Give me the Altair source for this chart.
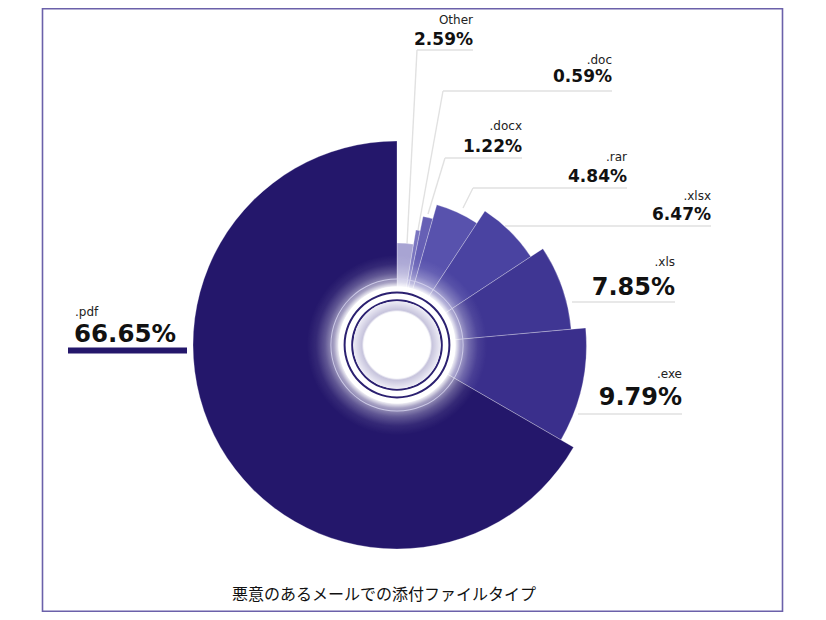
import math
import altair as alt
import pandas as pd

# ---------------- data ----------------
names = ["Other", ".doc", ".docx", ".rar", ".xlsx", ".xls", ".exe", ".pdf"]
shares = [2.59, 0.59, 1.22, 4.84, 6.47, 7.85, 9.79, 66.65]
ranks = [0, 1, 2, 3, 4, 5, 6, 7]          # radial step of each slice (smallest -> largest)
title_text = "悪意のあるメールでの添付ファイルタイプ"

# ---------------- style / layout ----------------
colors = ["#a8a4d3", "#7a75c0", "#6660b5", "#5852ad", "#4a43a1", "#3f3693", "#3a2f8c", "#24176b"]
M = 8  # page margin -> chart coordinates
CX, CY = 397 - M, 345 - M

# right-hand labels (page coords): right edge x, name y, value y, value font size
lab_x = [473, 612, 522, 627, 711, 675, 682]
name_y = [20, 60, 126, 157, 196, 262, 374]
val_y = [40, 77, 147, 177, 215, 288, 398]
val_fs = [17, 17, 17, 17, 17, 24, 24]

# leader / underline segments (page coords)
segs = [
    (417, 50, 473, 50), (417, 50, 407, 244),
    (443, 91, 612, 91), (443, 91, 418, 230),
    (445, 158, 522, 158), (445, 158, 428, 214),
    (473, 188, 627, 188), (473, 188, 463, 208),
    (505, 226, 711, 226),
    (572, 302, 675, 302),
    (578, 414, 682, 414),
]

FONT = "DejaVu Sans"

df = pd.DataFrame({"name": names, "share": shares, "rank": ranks, "idx": list(range(len(names)))})
one = pd.DataFrame({"k": [0]})

# ---------------- layers ----------------
frame = alt.Chart(one).mark_rect(fill="white", stroke="#6b61aa", strokeWidth=1.6).encode(
    x=alt.value(42.5 - M), x2=alt.value(782.5 - M), y=alt.value(0.8), y2=alt.value(603.2)
)

seg_df = pd.DataFrame(
    [{"x1": a - M, "y1": b - M, "x2": c - M, "y2": d - M} for a, b, c, d in segs]
)
leaders = alt.Chart(seg_df).mark_rule(color="#e1e1e1", strokeWidth=1.4).encode(
    x=alt.X("x1:Q", scale=None, axis=None),
    y=alt.Y("y1:Q", scale=None, axis=None),
    x2="x2:Q",
    y2="y2:Q",
)

slices = alt.Chart(df).transform_window(
    cum="sum(share)", sort=[alt.SortField("idx")], frame=[None, 0]
).transform_calculate(
    start="datum.cum - datum.share"
).mark_arc(stroke="white", strokeOpacity=0.35, strokeWidth=0.8).encode(
    theta=alt.Theta("start:Q", scale=alt.Scale(domain=[0, 100], range=[0, 2 * math.pi])),
    theta2="cum:Q",
    radius=alt.Radius("rank:Q", scale=alt.Scale(type="linear", domain=[0, 7], range=[102, 204])),
    radius2=alt.value(0),
    color=alt.Color("name:N", scale=alt.Scale(domain=names, range=colors), legend=None),
    order=alt.Order("idx:Q"),
    x=alt.value(CX),
    y=alt.value(CY),
)


def disc(outer, inner=0, **kw):
    return alt.Chart(one).mark_arc(
        outerRadius=outer, innerRadius=inner, theta=0, theta2=2 * math.pi, **kw
    ).encode(x=alt.value(CX), y=alt.value(CY))


glow = disc(
    90,
    fill={
        "gradient": "radial",
        "x1": 0.5, "y1": 0.5, "r1": 0,
        "x2": 0.5, "y2": 0.5, "r2": 0.5,
        "stops": [
            {"offset": 0, "color": "rgba(255,255,255,1)"},
            {"offset": 0.64, "color": "rgba(255,255,255,1)"},
            {"offset": 0.7, "color": "rgba(255,255,255,0.6)"},
            {"offset": 0.8, "color": "rgba(255,255,255,0.28)"},
            {"offset": 0.9, "color": "rgba(255,255,255,0.08)"},
            {"offset": 1, "color": "rgba(255,255,255,0)"},
        ],
    },
)
thin_ring = disc(66.6, 65.6, fill="#d6d3ee", opacity=0.85)
white_band = disc(58.5, 0, fill="white")
dark_ring1 = disc(53.4, 51.4, fill="#2b2070")
dark_ring2 = disc(45.8, 43.8, fill="#2b2070")
inner = disc(
    43.8,
    fill={
        "gradient": "radial",
        "x1": 0.5, "y1": 0.5, "r1": 0,
        "x2": 0.5, "y2": 0.5, "r2": 0.5,
        "stops": [
            {"offset": 0, "color": "#ffffff"},
            {"offset": 0.76, "color": "#ffffff"},
            {"offset": 0.8, "color": "#c6c3dc"},
            {"offset": 1, "color": "#eeedf6"},
        ],
    },
)

rlab = pd.DataFrame({
    "name": names[:7],
    "pct": [f"{v:.2f}%" for v in shares[:7]],
    "x": [v - M for v in lab_x],
    "ny": [v - M for v in name_y],
    "vy": [v - M for v in val_y],
    "fs": val_fs,
})
r_names = alt.Chart(rlab).mark_text(align="right", baseline="middle", font=FONT, fontSize=12, color="#222222").encode(
    x=alt.X("x:Q", scale=None, axis=None), y=alt.Y("ny:Q", scale=None, axis=None), text="name:N"
)
r_vals = alt.Chart(rlab).mark_text(align="right", baseline="middle", font=FONT, fontWeight="bold", color="#111111").encode(
    x=alt.X("x:Q", scale=None, axis=None), y=alt.Y("vy:Q", scale=None, axis=None), text="pct:N",
    size=alt.Size("fs:Q", scale=None, legend=None),
)

plab = pd.DataFrame({"name": [names[7]], "pct": [f"{shares[7]:.2f}%"]})
p_name = alt.Chart(plab).mark_text(align="left", baseline="middle", font=FONT, fontSize=12, color="#222222").encode(
    x=alt.value(75 - M), y=alt.value(312 - M), text="name:N"
)
p_val = alt.Chart(plab).mark_text(align="left", baseline="middle", font=FONT, fontWeight="bold", fontSize=24.5, color="#111111").encode(
    x=alt.value(74 - M), y=alt.value(335 - M), text="pct:N"
)
p_bar = alt.Chart(one).mark_rule(color="#24176b", strokeWidth=6).encode(
    x=alt.value(68 - M), x2=alt.value(187 - M), y=alt.value(350.5 - M)
)

tdf = pd.DataFrame({"t": [title_text]})
title = alt.Chart(tdf).mark_text(align="center", baseline="middle", font="Noto Sans CJK JP", fontSize=16, color="#111111").encode(
    x=alt.value(384 - M), y=alt.value(595 - M), text="t:N"
)

chart = alt.layer(
    frame, leaders, slices, glow, thin_ring, white_band, dark_ring1, dark_ring2, inner,
    r_names, r_vals, p_name, p_val, p_bar, title,
).properties(
    width=810, height=604,
    autosize=alt.AutoSizeParams(type="fit", contains="padding"),
    padding=0,
    background="white",
).configure_view(stroke=None)

chart.save("out.html", embed_options={"renderer": "svg", "actions": False})
